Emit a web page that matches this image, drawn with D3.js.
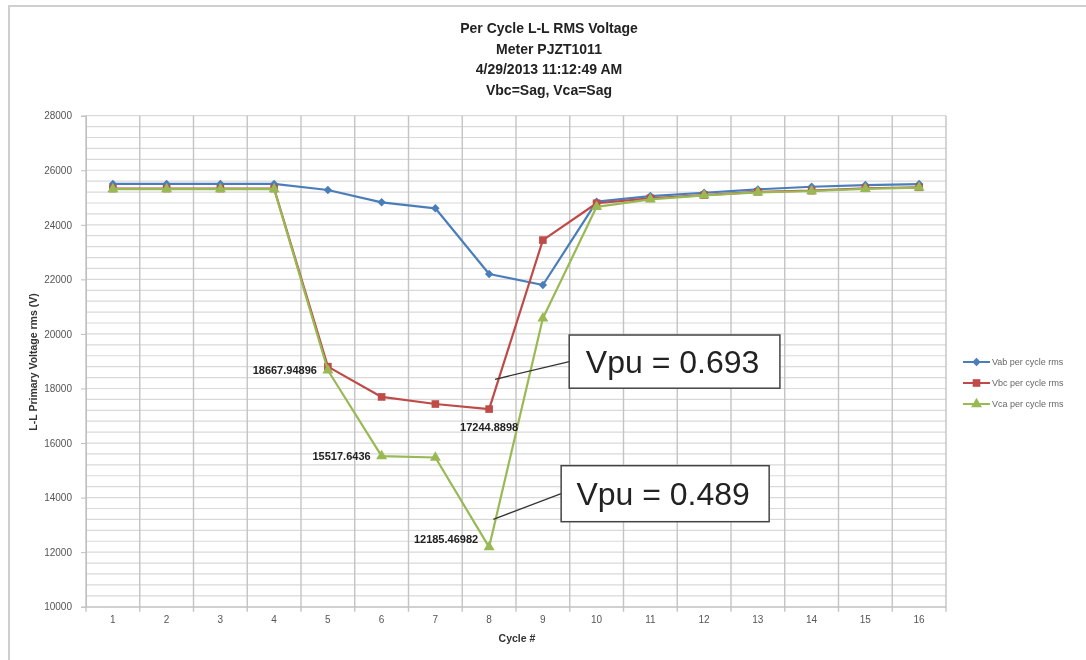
<!DOCTYPE html>
<html>
<head>
<meta charset="utf-8">
<script src="https://cdn.jsdelivr.net/npm/d3@7/dist/d3.min.js"></script>
<style>
  html, body { margin: 0; padding: 0; background: #fff; }
  svg { display: block; filter: blur(0.45px); }
  text { font-family: "Liberation Sans", Arial, sans-serif; }
</style>
</head>
<body>
<svg id="chart" width="1086" height="660"></svg>
<script>
// ---------- data ----------
const cycles = [1, 2, 3, 4, 5, 6, 7, 8, 9, 10, 11, 12, 13, 14, 15, 16];
const vab = [25500, 25500, 25500, 25500, 25275, 24825, 24605, 22197, 21793, 24847, 25055, 25176, 25300, 25395, 25457, 25494];
const vbc = [25330, 25330, 25330, 25330, 18800, 17690, 17430, 17244.8898, 23440, 24790, 24970, 25090, 25210, 25250, 25340, 25375];
const vca = [25310, 25310, 25310, 25310, 18667.94896, 15517.6436, 15470, 12185.46982, 20573, 24660, 24935, 25080, 25190, 25240, 25320, 25365];
const seriesNames = ["Vab per cycle rms", "Vbc per cycle rms", "Vca per cycle rms"];
const titleLines = ["Per Cycle L-L RMS Voltage", "Meter PJZT1011", "4/29/2013  11:12:49 AM", "Vbc=Sag, Vca=Sag"];
const yTicks = [10000, 12000, 14000, 16000, 18000, 20000, 22000, 24000, 26000, 28000];
const yTitle = "L-L Primary Voltage rms (V)";
const xTitle = "Cycle #";
// data labels: [series index, cycle, text, placement]
const dataLabels = [
  [2, 5, "18667.94896", "left"],
  [2, 6, "15517.6436", "left"],
  [1, 8, "17244.8898", "below"],
  [2, 8, "12185.46982", "left"]
];
// annotation callouts (data units): box x-range in cycles, y-range in volts, anchor point
const callouts = [
  { text: "Vpu = 0.693", x0: 9.49, x1: 13.41, y0: 19960, y1: 18010, ax: 8.11, ay: 18336 },
  { text: "Vpu = 0.489", x0: 9.34, x1: 13.21, y0: 15170, y1: 13116, ax: 8.078, ay: 13204 }
];

// ---------- layout ----------
const svg = d3.select("#chart");
const plot = { left: 86, right: 946, top: 115.7, bottom: 606.7 };
const colors = ["#4a7ebb", "#be4b48", "#98b954"];

const x = d3.scaleBand().domain(cycles).range([plot.left, plot.right]).paddingInner(0).paddingOuter(0);
const xl = d3.scaleLinear().domain([0.5, 16.5]).range([plot.left, plot.right]);
const y = d3.scaleLinear().domain([10000, 28000]).range([plot.bottom, plot.top]);
const cx = c => x(c) + x.bandwidth() / 2;

// outer frame (left + top)
svg.append("path")
  .attr("d", `M9,660 L9,6 L1086,6`)
  .attr("fill", "none").attr("stroke", "#cfcfcf").attr("stroke-width", 2);

// title
svg.append("g").selectAll("text").data(titleLines).join("text")
  .attr("x", 549).attr("y", (d, i) => 33 + i * 20.7)
  .attr("text-anchor", "middle")
  .attr("font-size", 14).attr("font-weight", "bold").attr("fill", "#222")
  .text(d => d);

// horizontal gridlines (minor every 400)
const hg = d3.range(10000, 28001, 400);
svg.append("g").selectAll("line").data(hg).join("line")
  .attr("x1", plot.left).attr("x2", plot.right)
  .attr("y1", d => y(d)).attr("y2", d => y(d))
  .attr("stroke", "#d9d9d9").attr("stroke-width", 1.2);

// vertical gridlines at category boundaries
const bounds = d3.range(0, cycles.length + 1);
svg.append("g").selectAll("line").data(bounds).join("line")
  .attr("x1", i => plot.left + i * x.bandwidth()).attr("x2", i => plot.left + i * x.bandwidth())
  .attr("y1", plot.top).attr("y2", plot.bottom + 5)
  .attr("stroke", "#c4c4c4").attr("stroke-width", 1.4);

// y axis
const yAxis = d3.axisLeft(y).tickValues(yTicks).tickSize(5).tickFormat(d3.format("d"));
const yg = svg.append("g").attr("transform", `translate(${plot.left},0)`).call(yAxis);
yg.select(".domain").attr("stroke", "#bfbfbf");
yg.selectAll(".tick line").attr("stroke", "#bfbfbf");
yg.selectAll(".tick text").attr("font-size", 10).attr("fill", "#555").attr("x", -14)
  .attr("font-family", "'Liberation Sans', Arial, sans-serif");

// x axis
const xAxis = d3.axisBottom(x).tickSize(0).tickPadding(9);
const xg = svg.append("g").attr("transform", `translate(0,${plot.bottom})`).call(xAxis);
xg.select(".domain").attr("stroke", "#bfbfbf");
xg.selectAll(".tick text").attr("font-size", 10).attr("fill", "#555")
  .attr("font-family", "'Liberation Sans', Arial, sans-serif");

// axis titles
svg.append("text")
  .attr("transform", `translate(37,362) rotate(-90)`)
  .attr("text-anchor", "middle").attr("font-size", 10.5).attr("font-weight", "bold").attr("fill", "#333")
  .text(yTitle);
svg.append("text")
  .attr("x", 517).attr("y", 642).attr("text-anchor", "middle")
  .attr("font-size", 10.5).attr("font-weight", "bold").attr("fill", "#333")
  .text(xTitle);

// series
const allSeries = [vab, vbc, vca];
const line = d3.line().x((d, i) => cx(cycles[i])).y(d => y(d));
const diamondPath = () => "M0,-4.2L4.2,0L0,4.2L-4.2,0Z";
const square = d3.symbol().type(d3.symbolSquare).size(58);
const triangle = d3.symbol().type(d3.symbolTriangle).size(52);
const symbols = [diamondPath, square, triangle];

allSeries.forEach((s, k) => {
  const g = svg.append("g");
  g.append("path").datum(s).attr("d", line)
    .attr("fill", "none").attr("stroke", colors[k]).attr("stroke-width", 2.2).attr("stroke-linejoin", "round");
  g.selectAll("path.m").data(s).join("path").attr("class", "m")
    .attr("transform", (d, i) => `translate(${cx(cycles[i])},${y(d)})`)
    .attr("d", symbols[k]())
    .attr("fill", colors[k]);
});

// data labels
svg.append("g").selectAll("text").data(dataLabels).join("text")
  .attr("x", d => d[3] === "left" ? cx(d[1]) - 11 : cx(d[1]))
  .attr("y", d => {
    const py = y(allSeries[d[0]][d[1] - 1]);
    if (d[3] === "below") return py + 22;
    return d[1] === 8 ? py - 4 : py + 4;
  })
  .attr("text-anchor", d => d[3] === "left" ? "end" : "middle")
  .attr("font-size", 11).attr("font-weight", "bold").attr("fill", "#222")
  .text(d => d[2]);

// callouts
callouts.forEach(c => {
  const bx0 = xl(c.x0), bx1 = xl(c.x1), by0 = y(c.y0), by1 = y(c.y1);
  const midY = (by0 + by1) / 2;
  svg.append("line")
    .attr("x1", xl(c.ax)).attr("y1", y(c.ay)).attr("x2", bx0).attr("y2", midY)
    .attr("stroke", "#333").attr("stroke-width", 1.3);
  svg.append("rect")
    .attr("x", bx0).attr("y", by0).attr("width", bx1 - bx0).attr("height", by1 - by0)
    .attr("fill", "#fff").attr("stroke", "#444").attr("stroke-width", 1.5);
  svg.append("text")
    .attr("x", (bx0 + bx1) / 2 - 2).attr("y", midY + 11.5)
    .attr("text-anchor", "middle").attr("font-size", 32).attr("fill", "#222")
    .text(c.text);
});

// legend
const lg = svg.append("g");
seriesNames.forEach((name, k) => {
  const ly = 362 + k * 21;
  lg.append("line").attr("x1", 963).attr("x2", 990).attr("y1", ly).attr("y2", ly)
    .attr("stroke", colors[k]).attr("stroke-width", 2);
  lg.append("path").attr("transform", `translate(976.5,${ly})`).attr("d", symbols[k]()).attr("fill", colors[k]);
  lg.append("text").attr("x", 992).attr("y", ly + 3.3).attr("font-size", 9).attr("fill", "#666").text(name);
});
</script>
</body>
</html>
